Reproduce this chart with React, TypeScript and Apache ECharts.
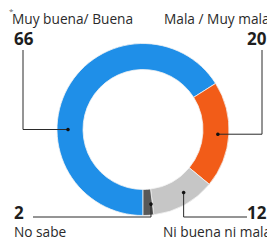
import React, { useEffect, useRef } from "react";
import * as echarts from "echarts";

const categories = ["Muy buena/ Buena", "Mala / Muy mala", "Ni buena ni mala", "No sabe"];
const values = [66, 20, 12, 2];
const colors = ["#1F8FE8", "#F25C18", "#C6C6C6", "#585858"];

export default function App() {
  const ref = useRef<HTMLDivElement>(null);
  useEffect(() => {
    document.body.style.margin = "0";
    const chart = echarts.init(ref.current!, null, { renderer: "svg" });
    const cx = 143, cy = 129.5, r0 = 60, r1 = 86;
    const startAngle = 270;
    const total = values.reduce((a, b) => a + b, 0);
    const startCW = 90 - startAngle + 360; // clockwise from 12 o'clock
    const mids: number[] = [];
    let acc = startCW;
    values.forEach((v) => {
      const span = (v / total) * 360;
      mids.push(acc + span / 2);
      acc += span;
    });
    // anchor angle for each leader dot (blue anchored at 9 o'clock)
    const anchorAngles = [270, mids[1], mids[2] - 4, mids[3] - 2.5];
    const rm = 75;
    const pt = (deg: number, r: number) => {
      const rad = (deg * Math.PI) / 180;
      return [cx + r * Math.sin(rad), cy - r * Math.cos(rad)];
    };
    const dots = anchorAngles.map((a) => pt(a, rm));
    const font = "'Open Sans', sans-serif";
    const ink = "#1e1e1e";
    const line = (points: number[][]) => ({
      type: "polyline",
      shape: { points },
      style: { stroke: "#2a2a2a", lineWidth: 1, fill: null },
      silent: true,
      z: 10,
    });
    const dot = (p: number[]) => ({
      type: "circle",
      shape: { cx: p[0], cy: p[1], r: 1.8 },
      style: { fill: "#111" },
      z: 11,
    });
    const text = (t: string, x: number, y: number, size: number, bold: boolean, color = ink) => ({
      type: "text",
      x,
      y,
      style: {
        text: t,
        fill: color,
        fontSize: size,
        lineHeight: Math.round(size * 0.95),
        fontWeight: bold ? "bold" : "normal",
        fontFamily: font,
        textVerticalAlign: "middle",
        textAlign: "left",
      },
      z: 12,
    });
    const lowY = 217;
    chart.setOption({
      animation: false,
      series: [
        {
          type: "pie",
          radius: [r0, r1],
          center: [cx, cy],
          startAngle,
          clockwise: true,
          label: { show: false },
          labelLine: { show: false },
          silent: true,
          itemStyle: { borderColor: "#f2f2f2", borderWidth: 0.8 },
          data: categories.map((c, i) => ({ name: c, value: values[i], itemStyle: { color: colors[i] } })),
        },
      ],
      graphic: [
        line([[23, 50], [23, dots[0][1]], [dots[0][0], dots[0][1]]]),
        line([[262, 50], [262, dots[1][1]], [dots[1][0], dots[1][1]]]),
        line([[247, lowY], [dots[2][0], lowY], [dots[2][0], dots[2][1]]]),
        line([[33, lowY], [dots[3][0], lowY], [dots[3][0], dots[3][1]]]),
        ...dots.map(dot),
        text("*", 9, 10, 8, false, "#666"),
        text(categories[0], 12, 18, 13.7, false, "#2a2a2a"),
        text(String(values[0]), 14, 38, 17, true),
        text(categories[1], 164, 18, 13.7, false, "#2a2a2a"),
        text(String(values[1]), 247, 38, 17, true),
        text(String(values[3]), 14, 212.5, 17, true),
        text(categories[3], 14, 231.5, 13.7, false, "#2a2a2a"),
        text(String(values[2]), 247, 212.5, 17, true),
        text(categories[2], 163, 231.5, 13.7, false, "#2a2a2a"),
      ],
    });
    return () => chart.dispose();
  }, []);
  return <div ref={ref} style={{ width: 267, height: 240, position: "absolute", left: 0, top: 0, background: "#fff" }} />;
}
